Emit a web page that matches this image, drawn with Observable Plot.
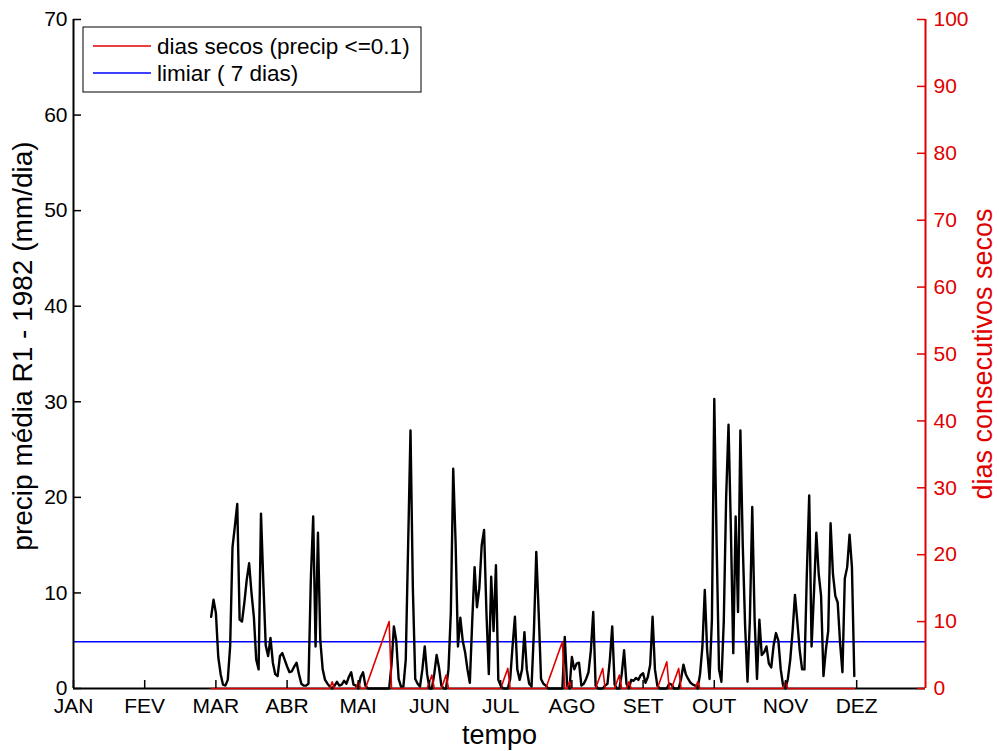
<!DOCTYPE html>
<html><head><meta charset="utf-8">
<script src="https://cdn.jsdelivr.net/npm/d3@7"></script>
<script src="https://cdn.jsdelivr.net/npm/@observablehq/plot@0.6"></script>
<style>html,body{margin:0;padding:0;background:#fff} svg{display:block}</style>
</head><body><div id="chart"></div>
<script>
const monthLabels = ["JAN","FEV","MAR","ABR","MAI","JUN","JUL","AGO","SET","OUT","NOV","DEZ"];
const monthTicks = [1,31,61,91,121,151,181,211,241,271,301,331];
const yTicks = [0,10,20,30,40,50,60,70];
const rightTicks = [0,10,20,30,40,50,60,70,80,90,100];
const threshold = 7; // dias
const firstDay = 59;
const precip = [
 7.5, 9.3, 7.9, 3.3, 1.5, 0.4, 0.3, 0.9, 4.4, 14.8,
 17.0, 19.3, 7.2, 7.0, 9.0, 11.4, 13.1, 10.0, 7.5, 3.0,
 2.0, 18.3, 11.0, 4.5, 3.4, 5.3, 2.7, 1.5, 1.3, 3.4,
 3.7, 3.0, 2.3, 1.7, 1.8, 2.3, 2.7, 1.5, 0.5, 0.3,
 0.3, 0.5, 11.4, 18.0, 4.4, 16.3, 5.0, 2.0, 0.9, 0.5,
 0.2, 0, 0.3, 0.7, 0.3, 0.4, 0.8, 0.5, 1.2, 1.7,
 0.4, 0.3, 0, 1.2, 1.7, 0.3, 0, 0, 0, 0,
 0, 0, 0, 0, 0, 0, 2.5, 6.5, 5.0, 1.0,
 0.2, 0.2, 3.0, 15.0, 27.0, 10.4, 1.0, 0.5, 0.2, 2.0,
 4.4, 1.5, 0, 0, 1.5, 3.5, 2.2, 0.3, 0, 0,
 2.0, 8.0, 23.0, 15.3, 4.4, 7.4, 5.0, 3.8, 2.0, 0.6,
 7.0, 12.7, 8.5, 10.5, 15.0, 16.6, 7.9, 1.5, 11.7, 6.0,
 12.9, 0.9, 0.3, 0, 0, 0, 1.0, 4.4, 7.5, 2.0,
 0.9, 2.0, 5.9, 2.0, 0.5, 0.2, 6.0, 14.3, 8.0, 1.0,
 0.5, 0.3, 0, 0, 0, 0, 0, 0, 0, 5.4,
 0.3, 0, 3.3, 2.0, 2.6, 2.7, 0.3, 0.5, 1.0, 1.7,
 4.0, 8.0, 0.3, 0, 0, 0, 0.3, 0.5, 3.0, 6.5,
 0.4, 0, 0, 1.5, 4.0, 0.5, 0, 0.9, 0.8, 1.1,
 0.9, 1.4, 1.6, 0.6, 1.2, 2.5, 7.5, 2.0, 0.3, 0,
 0, 0, 0, 0.5, 0.4, 0, 0, 0, 1.0, 2.5,
 1.5, 1.0, 0.6, 0.4, 0.3, 0, 1.5, 4.4, 10.3, 4.0,
 1.0, 7.2, 30.3, 15.0, 2.0, 0.7, 7.0, 20.0, 27.6, 16.6,
 3.7, 18.0, 8.0, 27.0, 15.0, 6.5, 0.7, 7.2, 19.0, 7.2,
 1.0, 7.2, 3.5, 3.8, 4.4, 2.6, 2.2, 4.5, 5.8, 5.0,
 2.0, 0.3, 0, 1.0, 3.0, 6.0, 9.8, 7.0, 4.0, 2.0,
 2.0, 12.0, 20.2, 4.4, 10.0, 16.3, 12.0, 9.7, 1.3, 4.0,
 6.0, 17.3, 12.0, 9.7, 9.0, 4.8, 1.7, 11.5, 12.7, 16.1,
 12.7, 1.3
];
const dryDays = [
 0,0,0,0,0,0,0,0,0,0,
 0,0,0,0,0,0,0,0,0,0,
 0,0,0,0,0,0,0,0,0,0,
 0,0,0,0,0,0,0,0,0,0,
 0,0,0,0,0,0,0,0,0,0,
 0,1,0,0,0,0,0,0,0,0,
 0,0,1,0,0,0,1,2,3,4,
 5,6,7,8,9,10,0,0,0,0,
 0,0,0,0,0,0,0,0,0,0,
 0,0,1,2,0,0,0,0,1,2,
 0,0,0,0,0,0,0,0,0,0,
 0,0,0,0,0,0,0,0,0,0,
 0,0,0,1,2,3,0,0,0,0,
 0,0,0,0,0,0,0,0,0,0,
 0,0,1,2,3,4,5,6,7,0,
 0,1,0,0,0,0,0,0,0,0,
 0,0,0,1,2,3,0,0,0,0,
 0,1,2,0,0,0,1,0,0,0,
 0,0,0,0,0,0,0,0,0,1,
 2,3,4,0,0,1,2,3,0,0,
 0,0,0,0,0,1,0,0,0,0,
 0,0,0,0,0,0,0,0,0,0,
 0,0,0,0,0,0,0,0,0,0,
 0,0,0,0,0,0,0,0,0,0,
 0,0,1,0,0,0,0,0,0,0,
 0,0,0,0,0,0,0,0,0,0,
 0,0,0,0,0,0,0,0,0,0,
 0,0
];
const legendLabels = ["dias secos (precip <=0.1)", "limiar ( 7 dias)"];

const data = precip.map((p, i) => ({day: firstDay + i, precip: p, dry: dryDays[i]}));
const k = 70 / 100; // right axis -> left axis units
const W = 999, H = 751, ML = 73, MR = 74, MT = 19, MB = 63;
const FW = W - ML - MR, FH = H - MT - MB;
const RED = "#e00000", BLUE = "#0000ff";
const font = "'Liberation Sans', Arial, Helvetica, sans-serif";
const TICK = 8;
const TFS = 21;   // tick font size

const plot = Plot.plot({
  width: W, height: H,
  marginLeft: ML, marginRight: MR, marginTop: MT, marginBottom: MB,
  style: {fontFamily: font, background: "#fff", color: "#000"},
  x: {domain: [1, 360], axis: null},
  y: {domain: [0, 70], axis: null},
  marks: [
    Plot.ruleY([threshold * k], {stroke: BLUE, strokeWidth: 1.5}),
    Plot.line(data, {x: "day", y: "precip", stroke: "#000", strokeWidth: 2.4}),
    Plot.ruleY([0], {stroke: "#000", strokeWidth: 2}),
    Plot.line(data, {x: "day", y: d => d.dry * k, stroke: RED, strokeWidth: 1.6}),
    Plot.ruleX([1], {stroke: "#000", strokeWidth: 2}),
    Plot.ruleX([360], {stroke: RED, strokeWidth: 2}),
    // inward ticks
    Plot.ruleX(monthTicks, {x: d => d, insetTop: FH - TICK, stroke: "#000", strokeWidth: 1.5}),
    Plot.ruleY(yTicks, {y: d => d, insetRight: FW - TICK, stroke: "#000", strokeWidth: 1.5}),
    Plot.ruleY(rightTicks, {y: d => d * k, insetLeft: FW - TICK, stroke: RED, strokeWidth: 1.5}),
    // tick labels
    Plot.text(monthTicks, {x: d => d, text: (d, i) => monthLabels[i], frameAnchor: "bottom", dy: 18, lineAnchor: "middle", fontSize: TFS, fill: "#000"}),
    Plot.text(yTicks, {y: d => d, text: d => String(d), frameAnchor: "left", dx: -6, textAnchor: "end", fontSize: TFS, fill: "#000"}),
    Plot.text(rightTicks, {y: d => d * k, text: d => String(d), frameAnchor: "right", dx: 8, textAnchor: "start", fontSize: TFS, fill: RED}),
    // axis titles
    Plot.text(["tempo"], {frameAnchor: "bottom", dy: 47, lineAnchor: "middle", textAnchor: "middle", fontSize: 27, fill: "#000"}),
    Plot.text(["precip média R1 - 1982 (mm/dia)"], {frameAnchor: "left", dx: -50, dy: -8, rotate: -90, lineAnchor: "middle", textAnchor: "middle", fontSize: 28, fill: "#000"}),
    Plot.text(["dias consecutivos secos"], {frameAnchor: "right", dx: 58, rotate: -90, lineAnchor: "middle", textAnchor: "middle", fontSize: 27, fill: RED})
  ]
});

// legend
const svg = d3.select(plot);
const lg = svg.append("g").attr("font-family", font).attr("font-size", 22.5).attr("text-anchor", "start");
lg.append("rect").attr("x", 83).attr("y", 27).attr("width", 338).attr("height", 65)
  .attr("fill", "#fff").attr("stroke", "#000").attr("stroke-width", 1);
[[RED, 46], [BLUE, 73]].forEach(([c, y], i) => {
  lg.append("line").attr("x1", 93).attr("x2", 151).attr("y1", y).attr("y2", y).attr("stroke", c).attr("stroke-width", 1.5);
  lg.append("text").attr("x", 157).attr("y", y).attr("dy", "0.35em").attr("text-anchor", "start").attr("fill", "#000").text(legendLabels[i]);
});

document.getElementById("chart").appendChild(plot);
</script>
</body></html>
